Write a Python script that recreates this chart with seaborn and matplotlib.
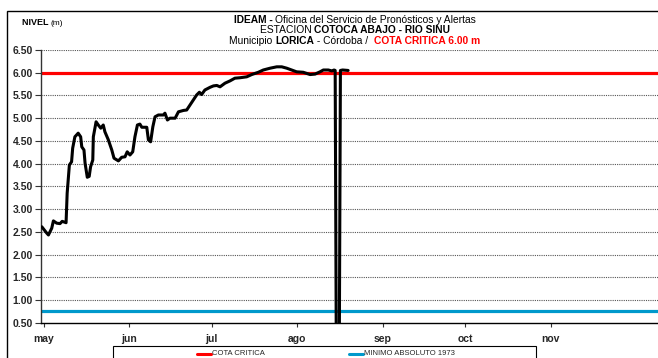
import matplotlib
matplotlib.use("Agg")
import matplotlib.pyplot as plt
from matplotlib.patches import Rectangle
from matplotlib.lines import Line2D
import seaborn as sns
import pandas as pd

# ---------------- data ----------------
# day index (1 = 1 May) and water level (m)
day = [0.3, 2.1, 2.7, 3.9, 4.5, 5.7, 6.9, 7.7, 9.1, 9.5, 10.3, 11.1, 11.5, 12.3, 13.5,
       14.4, 14.8, 15.6, 16.0, 16.8, 17.5, 18.0, 18.8, 19.0, 20.0, 20.8, 21.7, 22.6,
       23.2, 24.4, 25.7, 26.5, 28.1, 29.3, 30.5, 31.3, 32.3, 33.3, 34.1, 35.0, 35.9,
       36.6, 38.4, 39.0, 39.8, 40.6, 41.4, 42.6, 44.4, 45.0, 45.9, 46.8, 48.7, 49.9,
       51.7, 52.9, 54.1, 55.3, 56.5, 57.5, 58.3, 59.5, 61.4, 62.6, 63.8, 65.0, 66.8,
       68.6, 70.4, 72.3, 74.7, 76.5, 78.9, 80.7, 83.2, 85.6, 87.4, 89.2, 91.0, 92.8,
       95.2, 97.7, 99.5, 101.3, 102.5, 104.3, 105.6, 106.4, 106.8, 107.2, 108.3,
       108.7, 109.5, 111.5]
nivel = [2.61, 2.47, 2.43, 2.58, 2.74, 2.69, 2.68, 2.73, 2.70, 3.35, 3.97, 4.04, 4.34,
         4.59, 4.67, 4.59, 4.37, 4.30, 4.01, 3.70, 3.72, 3.93, 4.08, 4.59, 4.92, 4.85,
         4.78, 4.85, 4.70, 4.53, 4.30, 4.12, 4.06, 4.14, 4.15, 4.26, 4.19, 4.26, 4.59,
         4.85, 4.87, 4.80, 4.80, 4.52, 4.48, 4.81, 5.03, 5.07, 5.07, 5.11, 4.96, 5.00,
         5.00, 5.14, 5.17, 5.18, 5.29, 5.40, 5.51, 5.57, 5.52, 5.62, 5.68, 5.71, 5.72,
         5.69, 5.77, 5.82, 5.88, 5.89, 5.91, 5.96, 6.01, 6.06, 6.10, 6.13, 6.13, 6.10,
         6.06, 6.02, 6.01, 5.96, 5.97, 6.02, 6.06, 6.06, 6.04, 6.06, 6.05, 0.00, 0.00,
         6.05, 6.06, 6.05]

cota_critica = 6.00
minimo_absoluto = 0.75

month_days = [1, 32, 62, 93, 124, 154, 185]
month_labels = ["may", "jun", "jul", "ago", "sep", "oct", "nov"]
y_ticks = [0.5, 1.0, 1.5, 2.0, 2.5, 3.0, 3.5, 4.0, 4.5, 5.0, 5.5, 6.0, 6.5]

df = pd.DataFrame({"day": day, "nivel": nivel})

# ---------------- figure ----------------
sns.set_style("white")
plt.rcParams["font.family"] = ["Liberation Sans", "DejaVu Sans"]

W, H = 658, 358
fig = plt.figure(figsize=(W / 100, H / 100), dpi=100)
ax = fig.add_axes([41 / W, 1 - 322.7 / H, 1 - 41 / W, (322.7 - 50) / H])

ax.set_ylim(0.5, 6.5)
ax.set_xlim(0, 224)

for yv in y_ticks[1:]:
    ax.axhline(yv, color="#555555", lw=0.8, ls=(0, (1, 1)), zorder=1)

ax.axhline(cota_critica, color="#FF0000", lw=2.3, zorder=2)
ax.axhline(minimo_absoluto, color="#0099CC", lw=2.3, zorder=2)

sns.lineplot(data=df, x="day", y="nivel", ax=ax, color="black", lw=2.2,
             sort=False, estimator=None, zorder=3)
for ln in ax.get_lines():
    ln.set_solid_joinstyle("round")

ax.set_xlabel("")
ax.set_ylabel("")
ax.set_yticks(y_ticks)
ax.set_yticklabels([f"{v:.2f}" for v in y_ticks], fontsize=7.5, fontweight="bold")
ax.set_xticks(month_days)
ax.set_xticklabels(month_labels, fontsize=7.5, fontweight="bold")
ax.tick_params(axis="y", length=4, width=0.8, pad=2, left=True, color="#333333")
ax.tick_params(axis="x", length=3, width=0.8, pad=5, bottom=True, color="#333333")

for s in ["top", "right"]:
    ax.spines[s].set_visible(False)
ax.spines["left"].set_color("#333333")
ax.spines["left"].set_linewidth(1.0)
ax.spines["bottom"].set_color("black")
ax.spines["bottom"].set_linewidth(1.0)

# outer frame
fig.add_artist(Rectangle((7 / W, -0.05), 1.2, 1 - 11 / H + 0.05,
                         transform=fig.transFigure, fill=False, lw=1.0,
                         edgecolor="black"))

renderer = fig.canvas.get_renderer()


def rich(xc_px, base_px, segments, fs, align="center"):
    items = []
    total = 0
    for txt, wt, col, size in segments:
        t = fig.text(0, 1 - base_px / H, txt, fontsize=size or fs, fontweight=wt,
                     color=col, va="baseline", ha="left")
        w = t.get_window_extent(renderer).width
        items.append((t, w))
        total += w
    x = xc_px - total / 2 if align == "center" else xc_px
    for t, w in items:
        t.set_x(x / W)
        x += w


rich(355, 23, [("IDEAM - ", "bold", "black", None),
               ("Oficina del Servicio de Pronósticos y Alertas", "normal", "black", None)], 7.4)
rich(355, 33, [("ESTACION ", "normal", "black", None),
               ("COTOCA ABAJO - RIO SINU", "bold", "black", None)], 7.4)
rich(355, 44, [("Municipio ", "normal", "black", None),
               ("LORICA", "bold", "black", None),
               (" - Córdoba /  ", "normal", "black", None),
               ("COTA CRITICA 6.00 m", "bold", "#FF0000", None)], 7.4)
rich(22, 25, [("NIVEL ", "bold", "black", 6.5), ("(m)", "normal", "black", 6.0)], 6.5,
     align="left")

# legend box
fig.add_artist(Rectangle((113 / W, -0.05), (536 - 113) / W, 0.05 + 1 - 346 / H,
                         transform=fig.transFigure, fill=False, lw=0.8,
                         edgecolor="black"))
fig.add_artist(Line2D([197 / W, 211 / W], [1 - 353.5 / H] * 2, color="#FF0000",
                      lw=2.2, transform=fig.transFigure))
fig.text(212 / W, 1 - 353.5 / H, "COTA CRITICA", fontsize=5.5, va="center", ha="left")
fig.add_artist(Line2D([349 / W, 363 / W], [1 - 353.5 / H] * 2, color="#0099CC",
                      lw=2.2, transform=fig.transFigure))
fig.text(364 / W, 1 - 353.5 / H, "MINIMO ABSOLUTO 1973", fontsize=5.5, va="center",
         ha="left")

fig.savefig("out.png", dpi=100)
